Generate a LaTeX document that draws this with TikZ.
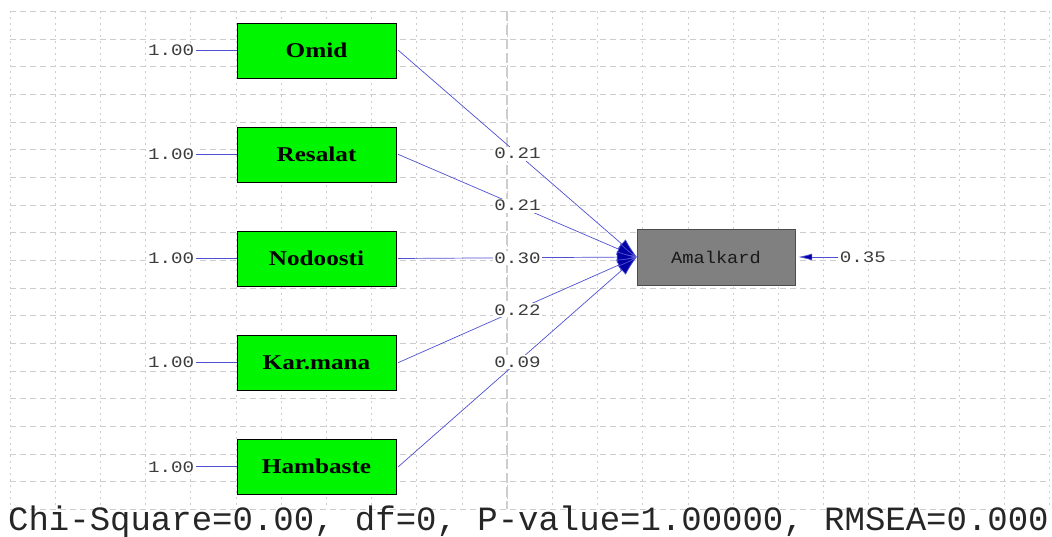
\documentclass[tikz,border=0pt]{standalone}
\usepackage{fontspec}
\setmainfont{Liberation Serif}
\setmonofont{Liberation Mono}
\usepackage{xcolor}
\usetikzlibrary{positioning,arrows.meta}

\definecolor{boxgreen}{RGB}{0,245,0}
\definecolor{boxgray}{RGB}{128,128,128}
\definecolor{pathblue}{RGB}{80,80,210}
\definecolor{tipblue}{RGB}{0,0,165}
\definecolor{gridgray}{RGB}{205,205,205}
\definecolor{numgray}{RGB}{60,60,60}

\newcommand{\stretchtxt}[2][1.2]{\scalebox{#1}[1]{#2}}

\tikzset{
	varbox/.style={draw=black, fill=boxgreen, minimum width=159pt, minimum height=55pt,
		font=\fontsize{21}{21}\selectfont\bfseries},
	outbox/.style={draw=black!70, fill=boxgray, minimum width=158pt, minimum height=56pt,
		font=\fontsize{17}{17}\ttfamily, text=black!90},
	coef/.style={fill=white, inner sep=1.5pt, text=numgray, font=\fontsize{16}{16}\ttfamily},
	path/.style={draw=pathblue, line width=0.7pt},
	pathtip/.style={path, -{Latex[length=20pt,width=12pt,fill=tipblue]}},
	hgrid/.style={draw=gridgray, line width=0.8pt, dash pattern=on 6pt off 4pt},
	vgrid/.style={draw=gridgray, line width=0.8pt, dash pattern=on 2pt off 4pt},
}

\begin{document}
\begin{tikzpicture}[x=1pt, y=-1pt, node distance=48.75pt]
			\useasboundingbox[fill=white] (0,0) rectangle (1052,536);
			% grid
			\foreach \k in {0,...,23}
				\draw[vgrid] ({10+45.2*\k},11) -- ({10+45.2*\k},509);
			\foreach \k in {0,...,18}
				\draw[hgrid] (10,{11.3+27.67*\k}) -- (1050,{11.3+27.67*\k});
			\draw[draw=gridgray, line width=1.2pt, dash pattern=on 10pt off 4pt] (507,11) -- (507,509);
			%
			\node [varbox] (nodoosti) at (316.5,258.5) {\stretchtxt{Nodoosti}};
			\node [varbox, above=of nodoosti] (resalat) {\stretchtxt{Resalat}};
			\node [varbox, above=of resalat] (omid) {\stretchtxt{Omid}};
			\node [varbox, below=of nodoosti] (karmana) {\stretchtxt{Kar.mana}};
			\node [varbox, below=of karmana] (hambaste) {\stretchtxt{Hambaste}};
			\node [outbox] (amal) at (716,257) {\stretchtxt[1.1]{Amalkard}};
			%
			\foreach \v in {omid,resalat,nodoosti,karmana,hambaste} {
				\node [coef, left=41pt of \v] (u\v) {\stretchtxt[1.2]{1.00}};
				\draw [path] (u\v) -- (\v);
			}
			%
			\draw [pathtip] ([xshift=2pt]omid.east) -- node[coef] {\stretchtxt{0.21}} (amal.west);
			\draw [pathtip] ([xshift=2pt]resalat.east) -- node[coef] {\stretchtxt{0.21}} (amal.west);
			\draw [pathtip] ([xshift=2pt]nodoosti.east) -- node[coef] {\stretchtxt{0.30}} (amal.west);
			\draw [pathtip] ([xshift=2pt]karmana.east) -- node[coef] {\stretchtxt{0.22}} (amal.west);
			\draw [pathtip] ([xshift=2pt]hambaste.east) -- node[coef] {\stretchtxt{0.09}} (amal.west);
			%
			\node [coef, right=43pt of amal] (err) {\stretchtxt{0.35}};
			\draw [path, -{Latex[length=14pt,width=7pt,fill=tipblue]}] (err) -- ([xshift=3pt]amal.east);
			%
			\node [anchor=base west, inner sep=0pt, text=black!85, font=\fontsize{34}{34}\ttfamily] (fit)
				at (8,530) {Chi-Square=0.00, df=0, P-value=1.00000, RMSEA=0.000};
\end{tikzpicture}
\end{document}
